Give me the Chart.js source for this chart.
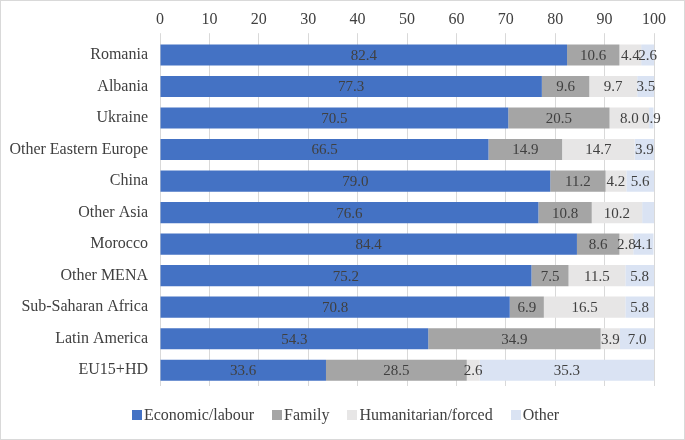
<!DOCTYPE html>
<html>
<head>
<meta charset="utf-8">
<script src="https://cdn.jsdelivr.net/npm/chart.js@4"></script>
<style>
  html, body { margin: 0; padding: 0; background: #fff; }
  #wrap { position: relative; width: 685px; height: 440px; box-sizing: border-box; border: 1px solid #d9d9d9; }
  #legend { position: absolute; left: 0; top: 405px; width: 689px; display: flex; justify-content: center;
    font: 16px 'Liberation Serif', 'Times New Roman', serif; color: #404040; }
  #legend span { display: flex; align-items: center; margin: 0 9px; }
  #legend i { display: inline-block; width: 10px; height: 10px; margin-right: 2px; }
</style>
</head>
<body>
<div id="wrap"><canvas id="chart" width="683" height="438"></canvas><div id="legend"></div></div>
<script>
// Origin groups
const regions = ["Romania", "Albania", "Ukraine", "Other Eastern Europe", "China", "Other Asia",
  "Morocco", "Other MENA", "Sub-Saharan Africa", "Latin America", "EU15+HD"];

// Shares by reason (%)
const economic = [82.4, 77.3, 70.5, 66.5, 79.0, 76.6, 84.4, 75.2, 70.8, 54.3, 33.6];
const family = [10.6, 9.6, 20.5, 14.9, 11.2, 10.8, 8.6, 7.5, 6.9, 34.9, 28.5];
const humanitarian = [4.4, 9.7, 8.0, 14.7, 4.2, 10.2, 2.8, 11.5, 16.5, 3.9, 2.6];
const other = [2.6, 3.5, 0.9, 3.9, 5.6, 2.4, 4.1, 5.8, 5.8, 7.0, 35.3];

const xTicks = [0, 10, 20, 30, 40, 50, 60, 70, 80, 90, 100];

// labels not printed in the original (dataset index, row index)
const hiddenLabels = [[3, 5]];

const serif = "'Liberation Serif', 'Times New Roman', serif";
const textColor = "#404040";

// Etiket nilai di tengah tiap segmen
const segmentLabels = {
  id: "segmentLabels",
  afterDatasetsDraw(chart) {
    const ctx = chart.ctx;
    ctx.save();
    ctx.font = "15px " + serif;
    ctx.fillStyle = textColor;
    ctx.textAlign = "center";
    ctx.textBaseline = "middle";
    chart.data.datasets.forEach((ds, di) => {
      const meta = chart.getDatasetMeta(di);
      meta.data.forEach((bar, i) => {
        if (hiddenLabels.some(([d, r]) => d === di && r === i)) return;
        const x = (bar.x + bar.base) / 2;
        ctx.fillText(ds.data[i].toFixed(1), x, bar.y + 1);
      });
    });
    ctx.restore();
  },
};

const chart = new Chart(document.getElementById("chart").getContext("2d"), {
  type: "bar",
  data: {
    labels: regions,
    datasets: [
      { label: "Economic/labour", data: economic, backgroundColor: "#4472c4" },
      { label: "Family", data: family, backgroundColor: "#a5a5a5" },
      { label: "Humanitarian/forced", data: humanitarian, backgroundColor: "#e7e6e6" },
      { label: "Other", data: other, backgroundColor: "#dae3f3" },
    ],
  },
  options: {
    indexAxis: "y",
    responsive: false,
    animation: false,
    layout: { padding: { left: 0, right: 30, top: 5, bottom: 53 } },
    datasets: { bar: { categoryPercentage: 1, barPercentage: 0.67 } },
    scales: {
      x: {
        position: "top",
        stacked: true,
        min: 0,
        max: 100,
        afterBuildTicks: (axis) => { axis.ticks = xTicks.map((v) => ({ value: v })); },
        grid: { color: "#d9d9d9", tickLength: 6 },
        border: { display: false },
        ticks: { color: textColor, font: { family: serif, size: 16 }, padding: 4 },
      },
      y: {
        stacked: true,
        grid: { display: false },
        border: { display: false },
        afterFit: (axis) => { axis.width = 159; },
        ticks: { color: textColor, font: { family: serif, size: 16 }, padding: 4 },
      },
    },
    plugins: {
      legend: { display: false },
      tooltip: { enabled: false },
    },
  },
  plugins: [segmentLabels],
});

// Legenda HTML dari dataset
document.getElementById("legend").innerHTML = chart.data.datasets
  .map((ds) => `<span><i style="background:${ds.backgroundColor}"></i>${ds.label}</span>`)
  .join("");
</script>
</body>
</html>
